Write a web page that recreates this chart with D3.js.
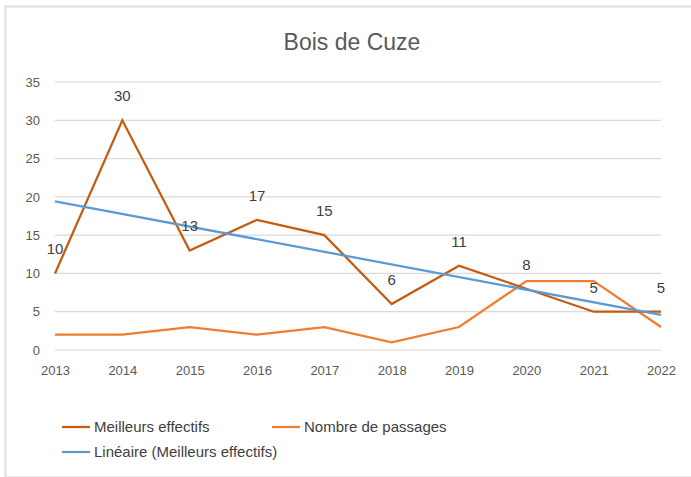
<!DOCTYPE html>
<html>
<head>
<meta charset="utf-8">
<script src="https://cdn.jsdelivr.net/npm/d3@7"></script>
<style>
  body { margin: 0; background: #fff; }
  svg { font-family: "Liberation Sans", Arial, sans-serif; }
</style>
</head>
<body>
<svg id="chart"></svg>
<script>
var years = [2013, 2014, 2015, 2016, 2017, 2018, 2019, 2020, 2021, 2022];
var meilleursEffectifs = [10, 30, 13, 17, 15, 6, 11, 8, 5, 5];
var nombrePassages = [2, 2, 3, 2, 3, 1, 3, 9, 9, 3];
var yTicks = [0, 5, 10, 15, 20, 25, 30, 35];

var width = 691, height = 477;
var svg = d3.select('#chart')
    .attr('width', width)
    .attr('height', height);

// cadre du graphique
svg.append('rect')
    .attr('x', 5.5).attr('y', 6.5)
    .attr('width', width).attr('height', height - 6)
    .attr('fill', 'none')
    .attr('stroke', '#e3e3e3')
    .attr('stroke-width', 2.5);

svg.append('text')
    .attr('x', 352).attr('y', 50)
    .attr('text-anchor', 'middle')
    .attr('font-size', 23)
    .attr('fill', '#595959')
    .text('Bois de Cuze');

var x = d3.scalePoint()
    .domain(years)
    .range([55, 661]);

var y = d3.scaleLinear()
    .domain([0, 35])
    .range([350, 82]);

// grille
svg.append('g')
  .selectAll('line')
    .data(yTicks)
    .enter().append('line')
    .attr('x1', 55).attr('x2', 661)
    .attr('y1', d => y(d)).attr('y2', d => y(d))
    .attr('stroke', '#d9d9d9')
    .attr('stroke-width', 1.2);

var yAxis = svg.append('g')
    .attr('transform', 'translate(40,0)')
    .call(d3.axisLeft(y).tickValues(yTicks).tickSize(0).tickPadding(0));
yAxis.select('.domain').remove();
yAxis.selectAll('text').attr('font-size', 13).attr('fill', '#595959').attr('font-family', null);

var xAxis = svg.append('g')
    .attr('transform', 'translate(0,366)')
    .call(d3.axisBottom(x).tickSize(0).tickPadding(0).tickFormat(d3.format('d')));
xAxis.select('.domain').remove();
xAxis.selectAll('text').attr('font-size', 13).attr('fill', '#595959').attr('font-family', null);

// tendance linéaire (régression des meilleurs effectifs)
var n = years.length;
var mx = d3.mean(d3.range(n)), my = d3.mean(meilleursEffectifs);
var sxy = d3.sum(d3.range(n), i => (i - mx) * (meilleursEffectifs[i] - my));
var sxx = d3.sum(d3.range(n), i => (i - mx) * (i - mx));
var slope = sxy / sxx, intercept = my - slope * mx;
var trend = [0, n - 1].map(i => ({ year: years[i], v: intercept + slope * i }));

var line = d3.line()
    .x(d => x(d.year))
    .y(d => y(d.v));

function series(vals) {
  return years.map((yr, i) => ({ year: yr, v: vals[i] }));
}

svg.append('path')
    .datum(series(nombrePassages))
    .attr('d', line)
    .attr('fill', 'none')
    .attr('stroke', '#ED7D31')
    .attr('stroke-width', 2.25);

svg.append('path')
    .datum(series(meilleursEffectifs))
    .attr('d', line)
    .attr('fill', 'none')
    .attr('stroke', '#C55A11')
    .attr('stroke-width', 2.25);

svg.append('path')
    .datum(trend)
    .attr('d', line)
    .attr('fill', 'none')
    .attr('stroke', '#5B9BD5')
    .attr('stroke-width', 2.25);

// étiquettes
svg.append('g')
  .selectAll('text')
    .data(series(meilleursEffectifs))
    .enter().append('text')
    .attr('x', d => x(d.year))
    .attr('y', d => y(d.v) - 19)
    .attr('text-anchor', 'middle')
    .attr('font-size', 15)
    .attr('fill', '#404040')
    .text(d => d.v);

// légende
var legend = [
  { label: 'Meilleurs effectifs', color: '#C55A11', x: 62, y: 427 },
  { label: 'Nombre de passages', color: '#ED7D31', x: 272, y: 427 },
  { label: 'Linéaire (Meilleurs effectifs)', color: '#5B9BD5', x: 62, y: 452 }
];
var lg = svg.append('g').selectAll('g')
    .data(legend)
    .enter().append('g')
    .attr('transform', d => 'translate(' + d.x + ',' + d.y + ')');
lg.append('line')
    .attr('x1', 0).attr('x2', 28)
    .attr('stroke', d => d.color)
    .attr('stroke-width', 2.25);
lg.append('text')
    .attr('x', 32).attr('y', 5)
    .attr('font-size', 15)
    .attr('fill', '#404040')
    .text(d => d.label);
</script>
</body>
</html>
